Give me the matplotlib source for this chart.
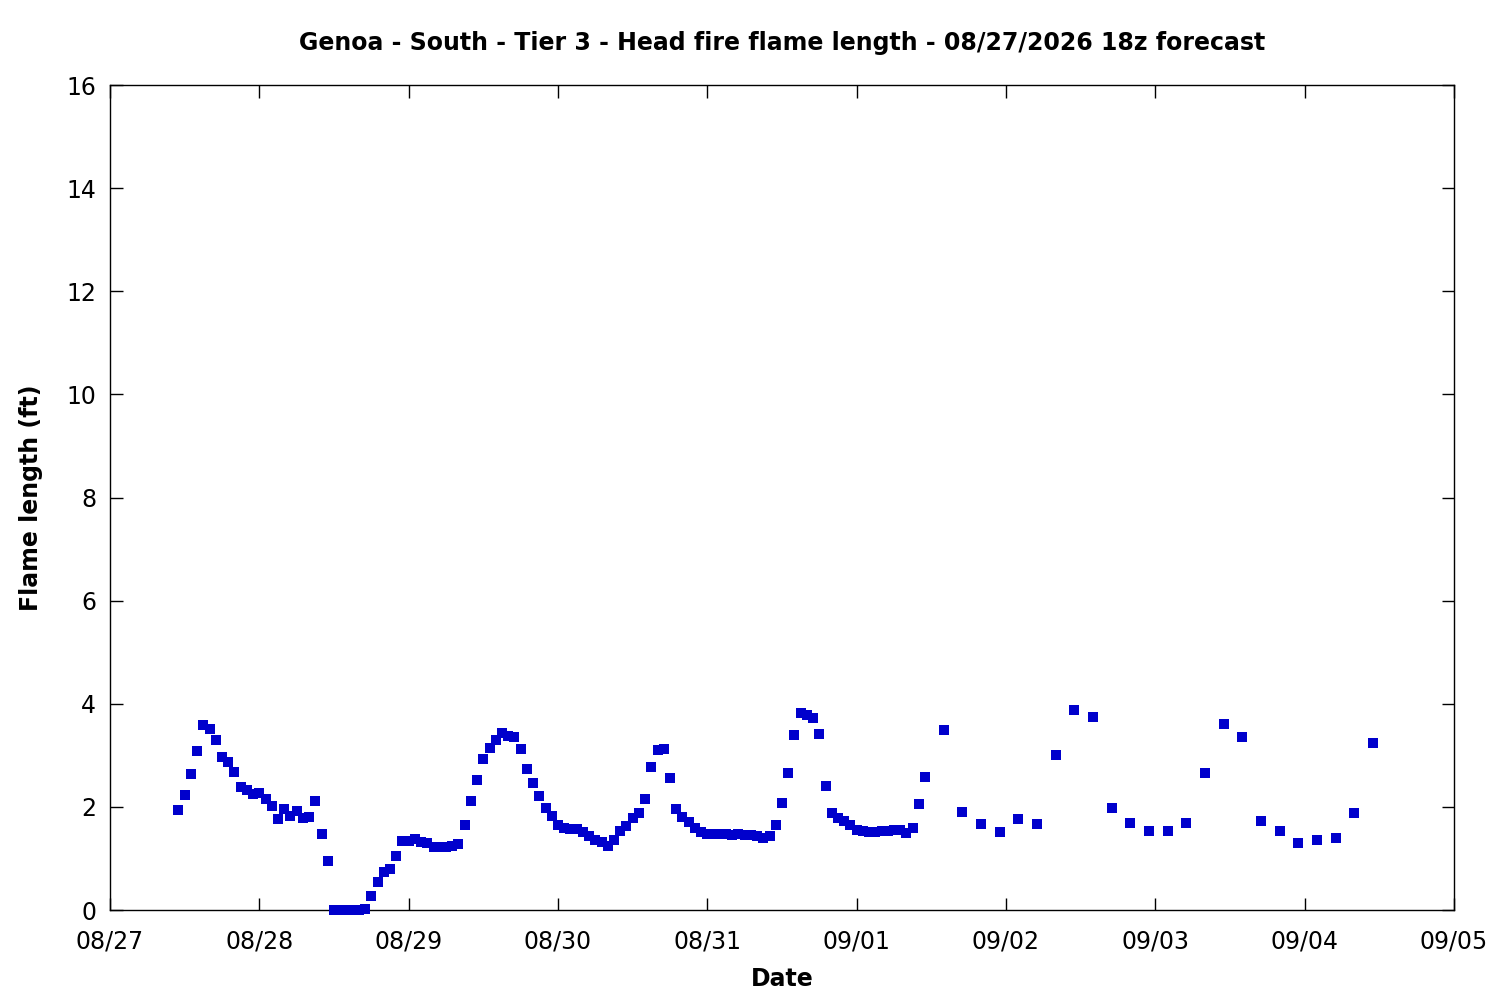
import numpy as np
import pandas as pd
import matplotlib
matplotlib.use('Agg')
import matplotlib.pyplot as plt

# hourly forecast, 08/27 11z -> 09/01 11z
hourly_vals = [1.94, 2.23, 2.64, 3.08, 3.59, 3.51, 3.30, 2.97, 2.87, 2.68,
               2.39, 2.33, 2.25, 2.27, 2.15, 2.02, 1.77, 1.96, 1.82, 1.92,
               1.78, 1.80, 2.11, 1.47, 0.95, 0.0, 0.0, 0.0, 0.0, 0.0,
               0.02, 0.27, 0.54, 0.74, 0.80, 1.05, 1.34, 1.34, 1.38, 1.32,
               1.30, 1.22, 1.22, 1.22, 1.24, 1.28, 1.65, 2.11, 2.52, 2.93,
               3.14, 3.30, 3.43, 3.37, 3.36, 3.12, 2.73, 2.46, 2.21, 1.98,
               1.82, 1.65, 1.59, 1.57, 1.57, 1.51, 1.44, 1.36, 1.32, 1.24,
               1.36, 1.53, 1.63, 1.78, 1.88, 2.15, 2.77, 3.10, 3.12, 2.56,
               1.96, 1.80, 1.71, 1.59, 1.51, 1.47, 1.47, 1.47, 1.47, 1.45,
               1.47, 1.46, 1.46, 1.44, 1.40, 1.43, 1.65, 2.07, 2.66, 3.39,
               3.82, 3.78, 3.72, 3.41, 2.40, 1.88, 1.78, 1.73, 1.65, 1.55,
               1.53, 1.51, 1.51, 1.53, 1.53, 1.55, 1.55, 1.49, 1.59, 2.06,
               2.58]
# 3-hourly forecast, 09/01 14z -> 09/04 11z
three_hr_vals = [3.50, 1.91, 1.66, 1.51, 1.76, 1.66, 3.00, 3.87, 3.74, 1.97,
                 1.68, 1.53, 1.53, 1.68, 2.65, 3.60, 3.35, 1.72, 1.53, 1.29,
                 1.35, 1.39, 1.89, 3.23]

day_labels = ['08/27', '08/28', '08/29', '08/30', '08/31',
              '09/01', '09/02', '09/03', '09/04', '09/05']

start = pd.Timestamp('2026-08-27 00:00')
t_hourly = pd.date_range('2026-08-27 11:00', periods=len(hourly_vals), freq='h')
t_3hr = pd.date_range('2026-09-01 14:00', periods=len(three_hr_vals), freq='3h')

times = list(t_hourly) + list(t_3hr)
hours = np.array([(t - start) / pd.Timedelta(hours=1) for t in times])
vals = np.array(hourly_vals + three_hr_vals)

plt.rcParams['font.family'] = ['DejaVu Sans']

fig = plt.figure(figsize=(15, 10), dpi=100)
ax = fig.add_axes([0.0733, 0.09, 0.896, 0.825])

ax.scatter(hours, vals, marker='s', s=45, color='#0000cc', linewidths=0,
           clip_on=False, zorder=3)

ax.set_xlim(0, 24 * (len(day_labels) - 1))
ax.set_ylim(0, 16)
ax.set_xticks(np.arange(len(day_labels)) * 24)
ax.set_xticklabels(day_labels)
ax.set_yticks(np.arange(0, 17, 2))

ax.tick_params(direction='in', top=True, right=True, length=9, width=1,
               labelsize=17)
ax.tick_params(axis='x', pad=14)
ax.tick_params(axis='y', pad=10)
for sp in ax.spines.values():
    sp.set_linewidth(1)

ax.set_xlabel('Date', fontsize=17, fontweight='bold', labelpad=10)
ax.set_ylabel('Flame length (ft)', fontsize=17, fontweight='bold', labelpad=17)
ax.set_title('Genoa - South - Tier 3 - Head fire flame length - 08/27/2026 18z forecast',
             fontsize=17, fontweight='bold', pad=25)

fig.savefig('out.png', dpi=100)
